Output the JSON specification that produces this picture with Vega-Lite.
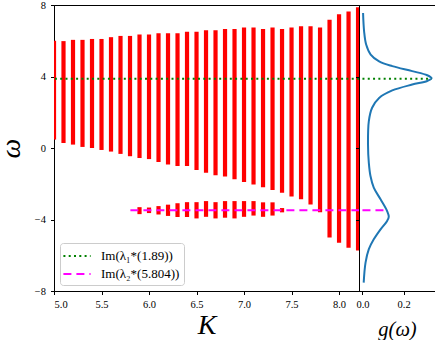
{
  "$schema": "https://vega.github.io/schema/vega-lite/v6.json",
  "padding": {"left": -3, "top": -1, "right": 0, "bottom": 0},
  "background": "white",
  "spacing": 0,
  "bounds": "flush",
  "config": {
    "view": {"stroke": "black", "strokeWidth": 1},
    "font": "Liberation Serif",
    "axis": {
      "labelFont": "Liberation Serif", "labelFontSize": 10.5, "labelColor": "black",
      "tickColor": "black", "tickSize": 3.5, "tickWidth": 1, "domainColor": "black",
      "grid": false, "labelPadding": 5,
      "titleFont": "Liberation Serif", "titleFontWeight": "normal", "titleFontStyle": "italic", "titleColor": "black"
    }
  },
  "datasets": {
    "bands": [
      {"K": 5.0, "lo": 0.47, "hi": 6.0},
      {"K": 5.1, "lo": 0.28, "hi": 5.98},
      {"K": 5.2, "lo": 0.19, "hi": 6.05},
      {"K": 5.3, "lo": 0.06, "hi": 6.05},
      {"K": 5.4, "lo": 0.0, "hi": 6.1},
      {"K": 5.5, "lo": -0.11, "hi": 6.1},
      {"K": 5.6, "lo": -0.2, "hi": 6.2},
      {"K": 5.7, "lo": -0.33, "hi": 6.27},
      {"K": 5.8, "lo": -0.46, "hi": 6.27},
      {"K": 5.9, "lo": -0.56, "hi": 6.35},
      {"K": 6.0, "lo": -0.62, "hi": 6.35},
      {"K": 6.1, "lo": -0.78, "hi": 6.42},
      {"K": 6.2, "lo": -0.93, "hi": 6.42},
      {"K": 6.3, "lo": -1.0, "hi": 6.42},
      {"K": 6.4, "lo": -1.0, "hi": 6.5},
      {"K": 6.5, "lo": -1.23, "hi": 6.5},
      {"K": 6.6, "lo": -1.38, "hi": 6.59},
      {"K": 6.7, "lo": -1.53, "hi": 6.59},
      {"K": 6.8, "lo": -1.6, "hi": 6.66},
      {"K": 6.9, "lo": -1.75, "hi": 6.66},
      {"K": 7.0, "lo": -1.9, "hi": 6.74},
      {"K": 7.1, "lo": -2.04, "hi": 6.74},
      {"K": 7.2, "lo": -2.19, "hi": 6.66},
      {"K": 7.3, "lo": -2.35, "hi": 6.74},
      {"K": 7.4, "lo": -2.5, "hi": 6.66},
      {"K": 7.5, "lo": -2.72, "hi": 6.74},
      {"K": 7.6, "lo": -2.87, "hi": 6.81},
      {"K": 7.7, "lo": -3.16, "hi": 6.81},
      {"K": 7.8, "lo": -3.6, "hi": 6.74},
      {"K": 7.9, "lo": -5.0, "hi": 7.18},
      {"K": 8.0, "lo": -5.3, "hi": 7.48},
      {"K": 8.1, "lo": -5.58, "hi": 7.63},
      {"K": 8.2, "lo": -5.73, "hi": 7.87},
      {"K": 5.9, "lo": -3.7, "hi": -3.31},
      {"K": 6.0, "lo": -3.64, "hi": -3.33},
      {"K": 6.1, "lo": -3.72, "hi": -3.25},
      {"K": 6.2, "lo": -3.8, "hi": -3.17},
      {"K": 6.3, "lo": -3.86, "hi": -3.09},
      {"K": 6.4, "lo": -3.86, "hi": -3.03},
      {"K": 6.5, "lo": -3.94, "hi": -3.03},
      {"K": 6.6, "lo": -3.85, "hi": -2.97},
      {"K": 6.7, "lo": -3.94, "hi": -3.03},
      {"K": 6.8, "lo": -3.9, "hi": -2.97},
      {"K": 6.9, "lo": -3.94, "hi": -2.97},
      {"K": 7.0, "lo": -3.85, "hi": -2.97},
      {"K": 7.1, "lo": -3.78, "hi": -2.97},
      {"K": 7.2, "lo": -3.85, "hi": -3.04},
      {"K": 7.3, "lo": -3.78, "hi": -3.04},
      {"K": 7.4, "lo": -3.6, "hi": -3.36}
    ],
    "gw": [
      {"w": 7.55, "g": 0.003},
      {"w": 6.53, "g": 0.008},
      {"w": 5.79, "g": 0.018},
      {"w": 5.23, "g": 0.04},
      {"w": 4.85, "g": 0.081},
      {"w": 4.58, "g": 0.145},
      {"w": 4.3, "g": 0.242},
      {"w": 4.07, "g": 0.315},
      {"w": 3.9, "g": 0.336},
      {"w": 3.75, "g": 0.315},
      {"w": 3.55, "g": 0.242},
      {"w": 3.22, "g": 0.145},
      {"w": 2.8, "g": 0.081},
      {"w": 2.25, "g": 0.047},
      {"w": 1.5, "g": 0.031},
      {"w": 0.2, "g": 0.027},
      {"w": -0.83, "g": 0.031},
      {"w": -1.57, "g": 0.039},
      {"w": -2.22, "g": 0.055},
      {"w": -2.87, "g": 0.088},
      {"w": -3.53, "g": 0.12},
      {"w": -3.85, "g": 0.128},
      {"w": -4.08, "g": 0.12},
      {"w": -4.55, "g": 0.088},
      {"w": -5.11, "g": 0.055},
      {"w": -5.66, "g": 0.031},
      {"w": -6.41, "g": 0.015},
      {"w": -7.53, "g": 0.006}
    ]
  },
  "hconcat": [
    {
      "width": 305,
      "height": 286,
      "layer": [
        {
          "data": {"name": "bands"},
          "mark": {"type": "rule", "color": "#ff0000", "strokeWidth": 4.2, "clip": true},
          "encoding": {
            "x": {"field": "K", "type": "quantitative",
              "scale": {"domain": [5, 8.21], "nice": false, "zero": false},
              "axis": {"values": [5, 5.5, 6, 6.5, 7, 7.5, 8], "format": ".1f", "title": "K", "titleFontSize": 28, "titlePadding": 1.5}},
            "y": {"field": "lo", "type": "quantitative",
              "scale": {"domain": [-8, 8], "nice": false, "zero": false},
              "axis": {"values": [-8, -6, -4, -2, 0, 2, 4, 6, 8], "format": "d", "title": "ω", "titleFontSize": 28, "titlePadding": 8.5}},
            "y2": {"field": "hi"}
          }
        },
        {
          "data": {"values": [{"w": 3.88, "s": "Im(λ₁*(1.89))"}]},
          "mark": {"type": "rule", "strokeWidth": 2},
          "encoding": {
            "y": {"field": "w", "type": "quantitative"},
            "color": {"field": "s", "type": "nominal",
              "scale": {"domain": ["Im(λ₁*(1.89))", "Im(λ₂*(5.804))"], "range": ["#008000", "#ff00ff"]},
              "legend": {"orient": "bottom-left", "offset": 6, "title": null, "symbolType": "M-1.7,0H1.7", "symbolSize": 256, "symbolStrokeWidth": 2, "labelFontSize": 13, "labelFont": "Liberation Serif", "labelColor": "black", "labelOffset": 15, "symbolOffset": 4, "padding": 4, "rowPadding": 2, "strokeColor": "#cccccc", "fillColor": "rgba(255,255,255,0.8)", "cornerRadius": 3}},
            "strokeDash": {"field": "s", "type": "nominal",
              "scale": {"domain": ["Im(λ₁*(1.89))", "Im(λ₂*(5.804))"], "range": [[2, 3.3], [8, 5]]},
              "legend": null}
          }
        },
        {
          "data": {"values": [{"w": -3.48, "k1": 5.804, "k2": 8.21, "s": "Im(λ₂*(5.804))"}]},
          "mark": {"type": "rule", "strokeWidth": 2},
          "encoding": {
            "x": {"field": "k1", "type": "quantitative"},
            "x2": {"field": "k2"},
            "y": {"field": "w", "type": "quantitative"},
            "color": {"field": "s", "type": "nominal"},
            "strokeDash": {"field": "s", "type": "nominal"}
          }
        }
      ]
    },
    {
      "width": 76,
      "height": 286,
      "layer": [
        {
          "data": {"name": "gw"},
          "mark": {"type": "line", "color": "#1f77b4", "strokeWidth": 2, "interpolate": "catmull-rom"},
          "encoding": {
            "x": {"field": "g", "type": "quantitative",
              "scale": {"domain": [-0.0168, 0.3528], "nice": false, "zero": false},
              "axis": {"values": [0, 0.2], "format": ".1f", "title": "g(ω)", "titleFontSize": 20.5, "titlePadding": 9}},
            "y": {"field": "w", "type": "quantitative",
              "scale": {"domain": [-8, 8], "nice": false, "zero": false},
              "axis": {"values": [-8, -6, -4, -2, 0, 2, 4, 6, 8], "labels": false, "title": null}},
            "order": {"field": "w", "type": "quantitative"}
          }
        },
        {
          "data": {"values": [{"w": 3.88, "g0": 0, "g1": 0.336}]},
          "mark": {"type": "rule", "color": "#008000", "strokeWidth": 2, "strokeDash": [2, 3.3]},
          "encoding": {
            "x": {"field": "g0", "type": "quantitative"},
            "x2": {"field": "g1"},
            "y": {"field": "w", "type": "quantitative"}
          }
        },
        {
          "data": {"values": [{"w": -3.48, "g0": 0, "g1": 0.115}]},
          "mark": {"type": "rule", "color": "#ff00ff", "strokeWidth": 2, "strokeDash": [8, 5]},
          "encoding": {
            "x": {"field": "g0", "type": "quantitative"},
            "x2": {"field": "g1"},
            "y": {"field": "w", "type": "quantitative"}
          }
        }
      ]
    }
  ]
}
